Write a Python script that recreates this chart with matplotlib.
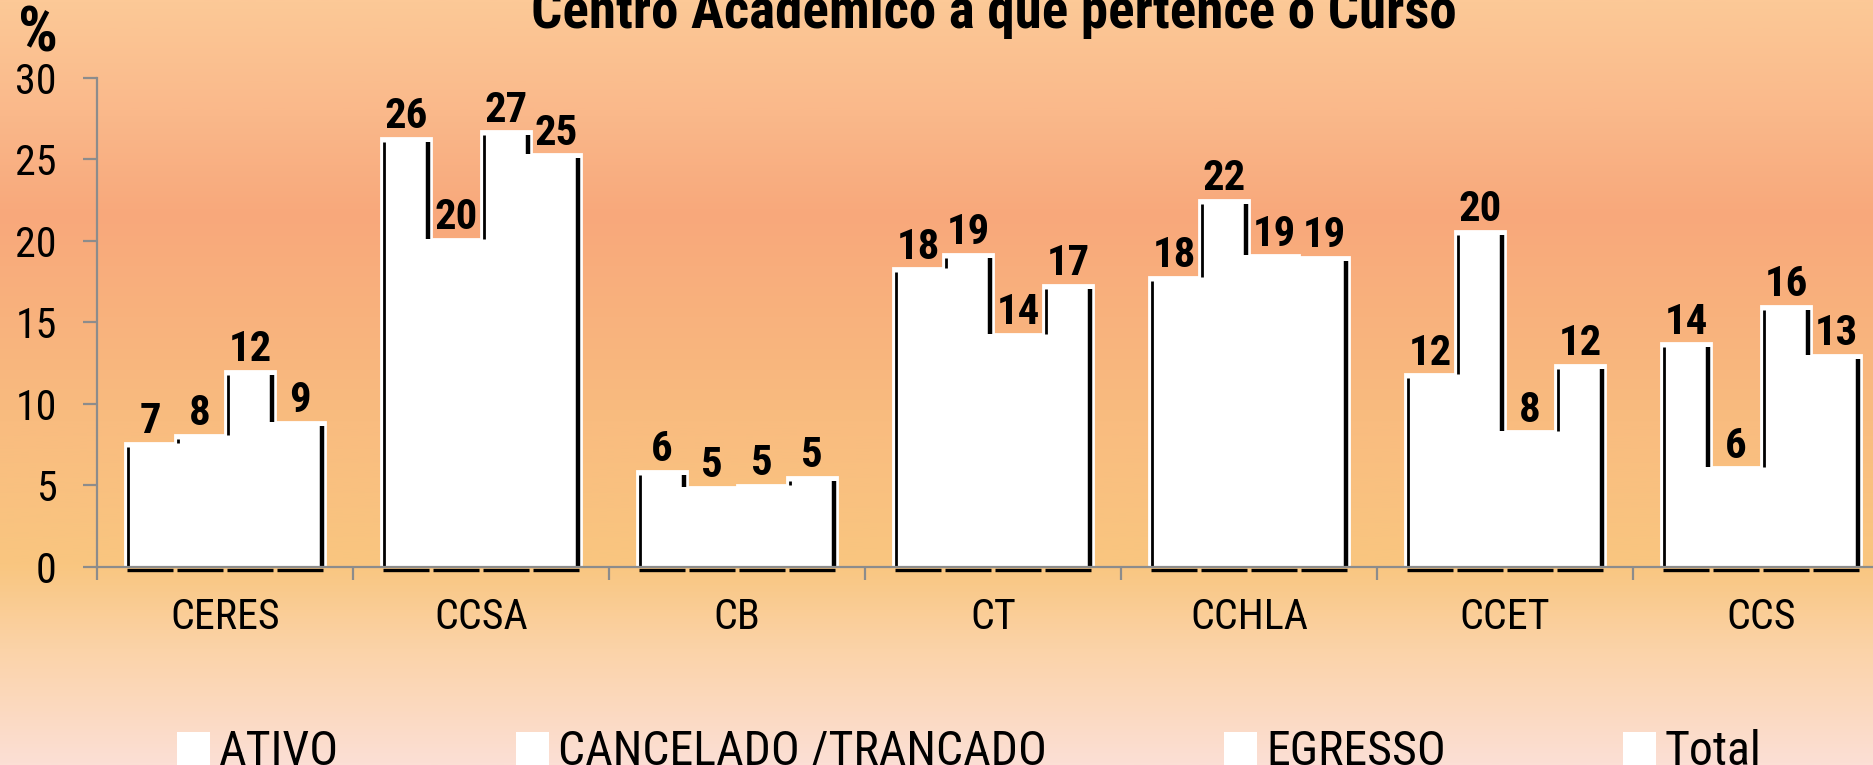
import numpy as np
import matplotlib
matplotlib.use("Agg")
import matplotlib.pyplot as plt
from matplotlib import font_manager
from matplotlib.font_manager import FontProperties
from matplotlib.textpath import TextPath
from matplotlib.colors import LinearSegmentedColormap
from matplotlib.patches import Patch

# ---------------- data ----------------
categories = ["CERES", "CCSA", "CB", "CT", "CCHLA", "CCET", "CCS"]
series_names = ["ATIVO", "CANCELADO /TRANCADO", "EGRESSO", "Total"]

ativo = [7.6, 26.3, 5.9, 18.3, 17.8, 11.8, 13.7]
cancelado = [8.1, 20.1, 4.9, 19.2, 22.5, 20.6, 6.1]
egresso = [12.0, 26.7, 5.0, 14.3, 19.1, 8.3, 16.0]
total = [8.9, 25.3, 5.5, 17.3, 19.0, 12.4, 13.0]

ativo_labels = ["7", "26", "6", "18", "18", "12", "14"]
cancelado_labels = ["8", "20", "5", "19", "22", "20", "6"]
egresso_labels = ["12", "27", "5", "14", "19", "8", "16"]
total_labels = ["9", "25", "5", "17", "19", "12", "13"]

y_ticks = [0, 5, 10, 15, 20, 25, 30]
title = "Centro Acadêmico a que pertence o Curso"

# ---------------- font choice (narrowest available sans) ----------------
entries = font_manager.fontManager.ttflist
names = {f.name for f in entries}
FAMILY, STRETCH = "DejaVu Sans", "normal"
if "Liberation Sans Narrow" in names:
    FAMILY = "Liberation Sans Narrow"
elif "Roboto Condensed" in names:
    FAMILY = "Roboto Condensed"
elif "Open Sans Condensed" in names:
    FAMILY = "Open Sans Condensed"
elif any(f.name == "DejaVu Sans" and "Condensed" in f.fname for f in entries):
    FAMILY, STRETCH = "DejaVu Sans", "condensed"
elif any(f.name == "Open Sans" and "ondensed" in f.fname for f in entries):
    FAMILY, STRETCH = "Open Sans", "condensed"
elif "Liberation Sans" in names:
    FAMILY = "Liberation Sans"

plt.rcParams["font.family"] = [FAMILY, "DejaVu Sans"]
plt.rcParams["font.stretch"] = STRETCH


def ink(text, weight="normal"):
    fp = FontProperties(family=FAMILY, stretch=STRETCH, weight=weight)
    ext = TextPath((0, 0), text, size=100, prop=fp).get_extents()
    return ext.width / 100.0, ext.height / 100.0


def fit_pt(text, width_px, height_px, weight="normal", wfac=0.6):
    """font size (pt) compromising ink width and ink height targets"""
    w1, h1 = ink(text, weight)
    fw = width_px / w1
    fh = height_px / h1
    px = np.exp(wfac * np.log(fw) + (1 - wfac) * np.log(fh))
    return px * 72.0 / 100.0


W, H, DPI = 1873, 765, 100
fig = plt.figure(figsize=(W / DPI, H / DPI), dpi=DPI)

# ---------------- background gradient ----------------
bg = fig.add_axes([0, 0, 1, 1], zorder=-10)
stops = [
    (0.00, (252, 201, 151)),
    (0.15, (250, 184, 138)),
    (0.28, (248, 168, 123)),
    (0.55, (249, 188, 127)),
    (0.74, (249, 198, 128)),
    (0.85, (251, 211, 168)),
    (1.00, (252, 223, 213)),
]
cmap = LinearSegmentedColormap.from_list(
    "bg", [(p, tuple(c / 255 for c in col)) for p, col in stops])
grad = np.linspace(0, 1, 512).reshape(-1, 1)
bg.imshow(grad, aspect="auto", cmap=cmap, extent=[0, 1, 0, 1], origin="upper")
bg.set_axis_off()

# ---------------- main axes ----------------
left_px, axis_y_px, top_px, group_px = 97, 566.7, 77.7, 256
ax = fig.add_axes([left_px / W, (H - axis_y_px) / H,
                   len(categories) * group_px / W, (axis_y_px - top_px) / H])
ax.set_facecolor("none")
ax.set_xlim(0, len(categories))
ax.set_ylim(0, 30)

gray = "#8c8c8c"
for s in ["top", "right"]:
    ax.spines[s].set_visible(False)
for s in ["left", "bottom"]:
    ax.spines[s].set_color(gray)
    ax.spines[s].set_linewidth(1.6)
    ax.spines[s].set_zorder(5)

fs_ytick = fit_pt("30", 39, 28.5)
fs_xtick = fit_pt("CCHLA", 114, 31)
fs_val = fit_pt("26", 41, 30, weight="bold", wfac=0.7)
fs_leg = fit_pt("CANCELADO /TRANCADO", 492, 35, wfac=0.8)
fs_title = fit_pt(title, 922, 36, weight="bold", wfac=1.0)
fs_pct = fit_pt("%", 41, 35, weight="bold")

ax.set_yticks(y_ticks)
ax.set_yticklabels([str(t) for t in y_ticks])
ax.tick_params(axis="y", direction="out", length=10, width=1.6, color=gray,
               pad=19, labelsize=fs_ytick, labelcolor="black")
ax.set_xticks(np.arange(len(categories) + 1))
ax.set_xticklabels([])
ax.tick_params(axis="x", which="major", direction="out", length=9.5, width=1.6,
               color=gray)
ax.set_xticks(np.arange(len(categories)) + 0.5, minor=True)
ax.set_xticklabels(categories, minor=True)
ax.tick_params(axis="x", which="minor", length=0, pad=22, labelsize=fs_xtick)

# ---------------- bars ----------------
values = [ativo, cancelado, egresso, total]
labels = [ativo_labels, cancelado_labels, egresso_labels, total_labels]
bw = 50.0 / group_px
px_x = 1.0 / group_px                    # data units per px in x
px_y = 30.0 / (axis_y_px - top_px)       # data units per px in y
centers = np.arange(len(categories)) + 0.5
nser = len(values)

for j, vals in enumerate(values):
    xs = centers + (j - (nser - 1) / 2) * bw
    ax.bar(xs, vals, width=bw, color="white", edgecolor="white",
           linewidth=2.0, zorder=2)

# shadow-like black strokes on the bars
for i in range(len(categories)):
    hs = [values[j][i] for j in range(nser)]
    for j in range(nser):
        xc = centers[i] + (j - (nser - 1) / 2) * bw
        xl = xc - bw / 2 + 3 * px_x
        xr = xc + bw / 2 - 3 * px_x
        top = hs[j] - 4 * px_y
        low_l = 0 if j == 0 else hs[j - 1]
        low_r = 0 if j == nser - 1 else hs[j + 1]
        if low_l < top:
            ax.vlines(xl, low_l, top, color="black", lw=2.0, zorder=4)
        if low_r < top:
            ax.vlines(xr, low_r, top, color="black", lw=3.2, zorder=4)
        ax.hlines(-3 * px_y, xc - bw / 2 + 2 * px_x, xc + bw / 2 - 2 * px_x,
                  color="black", lw=2.4, zorder=4, clip_on=False)

# value labels
for j, (vals, labs) in enumerate(zip(values, labels)):
    xs = centers + (j - (nser - 1) / 2) * bw
    for x, v, t in zip(xs, vals, labs):
        ax.annotate(t, (x, v), xytext=(0, 7), textcoords="offset points",
                    ha="center", va="baseline", fontsize=fs_val,
                    fontweight="bold", color="black", zorder=3)

# ---------------- texts ----------------
fig.text(994 / W, (H - 28) / H, title, ha="center", va="baseline",
         fontsize=fs_title, fontweight="bold", color="black")
fig.text(38 / W, (H - 52) / H, "%", ha="center", va="baseline",
         fontsize=fs_pct, fontweight="bold", color="black")

handles = [Patch(facecolor="white", edgecolor="none") for _ in series_names]
fpx = fs_leg * DPI / 72
fig.legend(handles, series_names, ncol=4, frameon=False,
           loc="upper left", bbox_to_anchor=(177 / W, 1 - 729 / H),
           borderpad=0, borderaxespad=0, fontsize=fs_leg,
           handlelength=33 / fpx, handleheight=33 / fpx,
           handletextpad=9 / fpx, columnspacing=177 / fpx)

fig.savefig("out.png", dpi=DPI)
